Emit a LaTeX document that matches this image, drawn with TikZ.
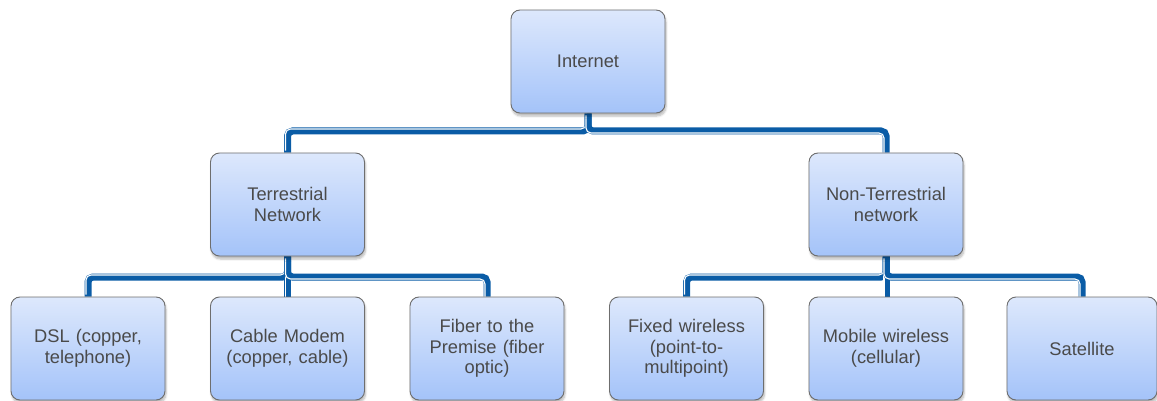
\documentclass[tikz,border=0pt]{standalone}
\usepackage{fontspec}
\setmainfont{Liberation Sans}
\usetikzlibrary{shadows.blur,backgrounds}
\definecolor{lineblue}{HTML}{0A5CA6}
\definecolor{boxtop}{HTML}{DDE8FC}
\definecolor{boxbot}{HTML}{A4C3F9}
\definecolor{boxedge}{HTML}{6E6E6E}
\definecolor{txt}{HTML}{4A4A4A}
\tikzset{
  box/.style={draw=boxedge, line width=0.9pt, rounded corners=9pt,
    top color=boxtop, bottom color=boxbot, text=txt,
    minimum width=154pt, minimum height=103pt, inner sep=2pt,
    align=center, text width=146pt,
    font=\fontsize{18.3}{20.5}\selectfont,
    blur shadow={shadow xshift=1pt, shadow yshift=-3pt, shadow opacity=28, shadow blur steps=6}},
  conn/.style={draw=lineblue, line width=7pt, rounded corners=5pt},
  connw/.style={draw=white, line width=1.1pt, rounded corners=5pt}
}
\newcommand\linkto[4]{%
  \draw[conn] (#1.south) -- (#1.south |- 0,#3) -- (#2.north |- 0,#3) -- (#2.north);
  \draw[connw, transform canvas={shift={(-2pt,{-2pt*#4})}}]
    (#1.south) -- (#1.south |- 0,#3) -- (#2.north |- 0,#3) -- (#2.north);
}
\begin{document}
\begin{tikzpicture}[x=1pt,y=-1pt]
\useasboundingbox (0,0) rectangle (1157,401);
\node[box] (inet) at (588,61.5) {Internet};
\node[box] (terr) at (287.5,204.5) {Terrestrial\\Network};
\node[box] (nonterr) at (886,204.5) {Non-Terrestrial\\network};
\node[box] (dsl) at (88,348.5) {DSL (copper,\\telephone)};
\node[box] (cable) at (287.5,348.5) {Cable Modem\\(copper, cable)};
\node[box] (fiber) at (487,348.5) {Fiber to the\\Premise (fiber\\optic)};
\node[box] (fixed) at (686.5,348.5) {Fixed wireless\\(point-to-\\multipoint)};
\node[box] (mobile) at (886,348.5) {Mobile wireless\\(cellular)};
\node[box, minimum width=146pt] (sat) at (1082,348.5) {Satellite};
\begin{pgfonlayer}{background}
  \linkto{inet}{terr}{131}{-1}
  \linkto{inet}{nonterr}{131}{1}
  \linkto{terr}{dsl}{277}{-1}
  \linkto{terr}{cable}{277}{1}
  \linkto{terr}{fiber}{277}{1}
  \linkto{nonterr}{fixed}{277}{-1}
  \linkto{nonterr}{mobile}{277}{1}
  \linkto{nonterr}{sat}{277}{1}
\end{pgfonlayer}
\end{tikzpicture}
\end{document}
